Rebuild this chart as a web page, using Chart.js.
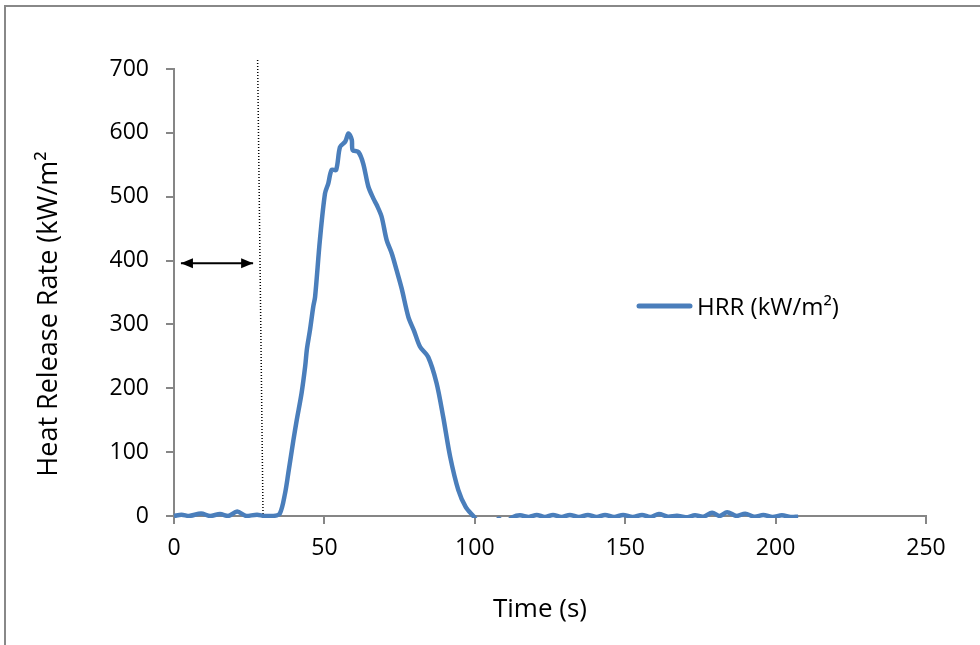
<!DOCTYPE html>
<html>
<head>
<meta charset="utf-8">
<title>Heat Release Rate</title>
<script src="https://cdn.jsdelivr.net/npm/chart.js@4/dist/chart.umd.min.js"></script>
<style>
    body { margin: 0; background: #fff; overflow: hidden; }
    #frame { position: absolute; left: 4px; top: 5px; width: 1100px; height: 800px; border: 2px solid #888888; }
    #myChart { position: absolute; left: 0; top: 0; }
</style>
</head>
<body>
<div id="frame"></div>
<canvas id="myChart" width="980" height="645"></canvas>
<script>
// Measured data (time in s, heat release rate in kW/m2)
const times = [0, 2.5, 5, 9, 12, 15.3, 18, 21, 24, 27.6, 30, 33, 35.2, 36.9, 38, 39.7, 40.8, 42.4, 43.6, 44.2,
    45.2, 46.3, 46.9, 48.5, 50.2, 51.3, 52.4, 53.9, 55.2, 56.9, 58, 59.1, 59.4, 61.3, 62.9, 64.6, 66.3, 67.4,
    69, 70.7, 72.4, 74, 75.7, 77.9, 79.8, 81.8, 84.5, 87.3, 89.5, 91.8, 94.5, 97, 99.5,
    101, 104, 107, 108, 109, 111, 112.5, 115, 118, 120.6, 123.3, 126, 128.8, 131.6, 134.6, 137.6, 140.5,
    143.3, 146.3, 149.3, 152.5, 155.6, 158.4, 161.2, 164.2, 167.2, 170.2, 173.2, 176, 178.9, 181.4, 183.9,
    187, 189.9, 193, 195.9, 199, 202.1, 205, 207.5];
const hrr = [0, 2, 0, 4, 0, 3, 0, 7, 0, 2, 0, 0, 4, 35, 67, 119, 150, 192, 234, 262,
    291, 328, 343, 432, 505, 521, 542, 542, 578, 586, 599, 589, 573, 570, 552, 516, 497, 487,
    469, 432, 411, 385, 356, 312, 290, 265, 249, 208, 155, 93, 41, 14, 0,
    -8, -8, -8, -4, -8, -8, -2, 1, -1.5, 1.5, -1.5, 1.5, -1.5, 1.5, -1.5, 1.5, -1.5,
    1.5, -1.5, 1.5, -1.5, 1.5, -1.5, 3, -1, 0.5, -2, 1, -1, 5, 0, 6,
    0, 3.5, -1, 1.5, -1.5, 1, -1.5, -1];

// Annotation: ignition marker and double arrow
const markerTimes = [27.8, 29.6];
const markerValues = [714, 0];
const arrowTimes = [2.3, 26.3];
const arrowValue = 396;

// Axis ticks
const xTicks = [0, 50, 100, 150, 200, 250];
const yTicks = [0, 100, 200, 300, 400, 500, 600, 700];

const seriesLabel = 'HRR (kW/m\u00B2)';
const xTitle = 'Time (s)';
const yTitle = 'Heat Release Rate (kW/m\u00B2';

const blue = '#4a7ebb';
const axisGray = '#868686';
const font = '"Open Sans", "Noto Sans", sans-serif';

// Draws arrow heads, the legend and the axis titles
const overlay = {
    id: 'overlay',
    afterDatasetsDraw(chart) {
        const c = chart.ctx;
        const xs = chart.scales.x, ys = chart.scales.y;
        const ay = ys.getPixelForValue(arrowValue);
        const xl = xs.getPixelForValue(arrowTimes[0]);
        const xr = xs.getPixelForValue(arrowTimes[1]);
        c.save();
        c.fillStyle = '#000';
        c.beginPath();
        c.moveTo(xl, ay); c.lineTo(xl + 12, ay - 5); c.lineTo(xl + 12, ay + 5);
        c.closePath(); c.fill();
        c.beginPath();
        c.moveTo(xr, ay); c.lineTo(xr - 12, ay - 5); c.lineTo(xr - 12, ay + 5);
        c.closePath(); c.fill();

        // legend
        c.strokeStyle = blue;
        c.lineWidth = 5;
        c.lineCap = 'round';
        c.beginPath(); c.moveTo(639, 306); c.lineTo(690, 306); c.stroke();
        c.fillStyle = '#000';
        c.font = '24px ' + font;
        c.textBaseline = 'alphabetic';
        c.textAlign = 'left';
        c.fillText(seriesLabel, 697, 315);

        // axis titles
        c.textAlign = 'center';
        c.font = '26px ' + font;
        c.fillText(xTitle, 540, 617);
        c.translate(57, 314);
        c.rotate(-Math.PI / 2);
        c.font = '27px ' + font;
        c.fillText(yTitle, 0, 0);
        c.restore();
    }
};

const ctx = document.getElementById('myChart').getContext('2d');
const myChart = new Chart(ctx, {
    type: 'line',
    data: {
        datasets: [{
            label: seriesLabel,
            data: times.map((t, i) => ({ x: t, y: hrr[i] })),
            borderColor: blue,
            borderWidth: 4.5,
            pointRadius: 0,
            tension: 0.3,
            clip: { left: 5, top: 5, right: 5, bottom: 2 }
        }, {
            label: 'marker',
            data: markerTimes.map((t, i) => ({ x: t, y: markerValues[i] })),
            borderColor: '#000',
            borderWidth: 1.5,
            borderDash: [1, 2],
            pointRadius: 0,
            clip: false
        }, {
            label: 'arrow',
            data: arrowTimes.map(t => ({ x: t, y: arrowValue })),
            borderColor: '#000',
            borderWidth: 2,
            pointRadius: 0
        }]
    },
    options: {
        responsive: false,
        animation: false,
        layout: { padding: { top: 69, right: 54, bottom: 0, left: 0 } },
        plugins: {
            legend: { display: false },
            tooltip: { enabled: false }
        },
        scales: {
            x: {
                type: 'linear',
                min: 0,
                max: 250,
                afterFit: s => { s.height = 129; },
                afterBuildTicks: s => { s.ticks = xTicks.map(v => ({ value: v })); },
                grid: { drawOnChartArea: false, tickLength: 8, color: axisGray, lineWidth: 2 },
                border: { color: axisGray, width: 2 },
                ticks: { color: '#000', padding: 11, maxRotation: 0, font: { family: font, size: 23 } }
            },
            y: {
                min: 0,
                max: 700,
                afterFit: s => { s.width = 174; },
                afterBuildTicks: s => { s.ticks = yTicks.map(v => ({ value: v })); },
                grid: { drawOnChartArea: false, tickLength: 8, color: axisGray, lineWidth: 2 },
                border: { color: axisGray, width: 2 },
                ticks: { color: '#000', padding: 17, font: { family: font, size: 23 } }
            }
        }
    },
    plugins: [overlay]
});
</script>
</body>
</html>
